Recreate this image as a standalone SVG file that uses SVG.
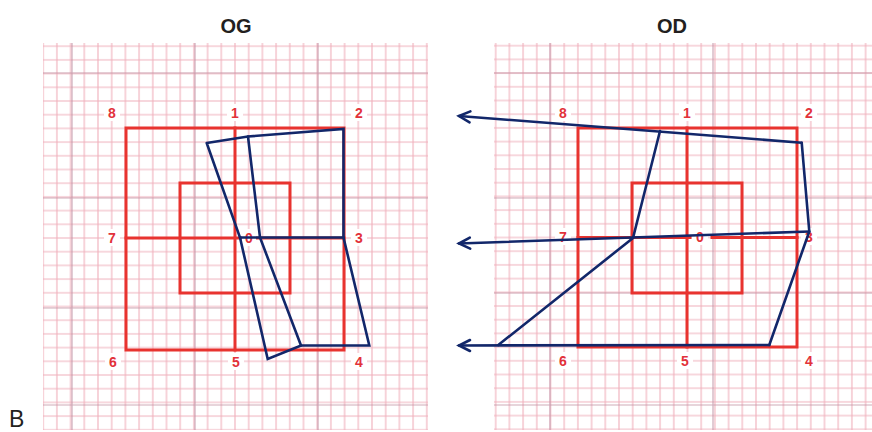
<svg xmlns="http://www.w3.org/2000/svg" width="872" height="432" viewBox="0 0 872 432">
<defs>
<style>
.title{font-family:"Liberation Sans",Arial,sans-serif;font-weight:bold;font-size:20px;fill:#231f20;text-anchor:middle}
.lbl{font-family:"Liberation Sans",Arial,sans-serif;font-weight:bold;font-size:14px;fill:#e2323a;text-anchor:middle}
.lblbg{fill:#ffffff}
.grid-dark{stroke:#bf8fa2;stroke-width:1.2;opacity:0.75}
.red{stroke:#e8332f;stroke-width:3;fill:none;stroke-linecap:square}
.blue{stroke:#12276a;stroke-width:2.6;fill:none;stroke-linejoin:miter;stroke-linecap:round}
</style>
<pattern id="gL" patternUnits="userSpaceOnUse" x="228.15" y="231.15" width="13.7" height="13.7">
<path d="M6.85,0V13.7M0,6.85H13.7" stroke="#f0b0bb" stroke-width="1.1" fill="none"/>
</pattern>
<pattern id="gR" patternUnits="userSpaceOnUse" x="680.65" y="230.65" width="13.7" height="13.7">
<path d="M6.85,0V13.7M0,6.85H13.7" stroke="#f0b0bb" stroke-width="1.1" fill="none"/>
</pattern>
<marker id="arr" markerUnits="userSpaceOnUse" markerWidth="14" markerHeight="14" refX="11" refY="6" orient="auto" overflow="visible">
<path d="M0,0.5 L11,6 L0,11.5" fill="none" stroke="#12276a" stroke-width="2.6" stroke-linecap="round" stroke-linejoin="miter"/>
</marker>
</defs>
<rect width="872" height="432" fill="#ffffff"/>

<g id="titles">
<text class="title" x="236" y="33">OG</text>
<text class="title" x="672" y="33">OD</text>
<text x="9" y="427" font-family="Liberation Sans,Arial,sans-serif" font-size="23" fill="#231f20">B</text>
</g>

<g id="grid-left">
<rect x="43" y="43" width="385" height="387" fill="url(#gL)"/>
<path class="grid-dark" d="M72,43V430M195,43V430M318,43V430M43,73H428M43,198H428M43,308H428M43,405H428"/>
</g>

<g id="grid-right">
<rect x="494" y="43" width="378" height="387" fill="url(#gR)"/>
<path class="grid-dark" d="M550,43V430M713,43V430M494,73H872M494,198H872M494,293H872M494,405H872"/>
</g>

<g id="chart-left">
<rect class="red" x="126" y="128" width="218" height="222"/>
<rect class="red" x="180" y="183" width="110" height="110"/>
<path class="red" d="M235,128V350M126,238H344"/>
</g>

<g id="chart-right">
<rect class="red" x="578" y="128" width="219" height="219"/>
<rect class="red" x="632" y="183" width="110" height="110"/>
<path class="red" d="M687,128V347M578,237.5H690M712,237.5H797"/>
</g>

<g id="labels-left">
<rect class="lblbg" x="104" y="104" width="16" height="17"/><text class="lbl" x="112" y="118">8</text>
<rect class="lblbg" x="227" y="104" width="16" height="17"/><text class="lbl" x="235" y="118">1</text>
<rect class="lblbg" x="351" y="104" width="16" height="17"/><text class="lbl" x="359" y="118">2</text>
<rect class="lblbg" x="104" y="229" width="16" height="17"/><text class="lbl" x="112" y="243">7</text>
<rect class="lblbg" x="242" y="229" width="14" height="17"/><text class="lbl" x="249" y="243">0</text>
<rect class="lblbg" x="351" y="229" width="16" height="17"/><text class="lbl" x="359" y="243">3</text>
<rect class="lblbg" x="105" y="353" width="16" height="17"/><text class="lbl" x="113" y="367">6</text>
<rect class="lblbg" x="228" y="353" width="16" height="17"/><text class="lbl" x="236" y="367">5</text>
<rect class="lblbg" x="351" y="353" width="16" height="17"/><text class="lbl" x="359" y="367">4</text>
</g>

<g id="labels-right">
<rect class="lblbg" x="555" y="104" width="16" height="17"/><text class="lbl" x="563" y="118">8</text>
<rect class="lblbg" x="679" y="104" width="16" height="17"/><text class="lbl" x="687" y="118">1</text>
<rect class="lblbg" x="801" y="104" width="16" height="17"/><text class="lbl" x="809" y="118">2</text>
<rect class="lblbg" x="555" y="228" width="16" height="17"/><text class="lbl" x="563" y="242">7</text>
<rect class="lblbg" x="692" y="228" width="16" height="17"/><text class="lbl" x="700" y="242">0</text>
<rect class="lblbg" x="801" y="228" width="16" height="17"/><text class="lbl" x="809" y="242">3</text>
<rect class="lblbg" x="555" y="352" width="16" height="17"/><text class="lbl" x="563" y="366">6</text>
<rect class="lblbg" x="677" y="352" width="16" height="17"/><text class="lbl" x="685" y="366">5</text>
<rect class="lblbg" x="801" y="352" width="16" height="17"/><text class="lbl" x="809" y="366">4</text>
</g>

<g id="connectors">
<g id="blue-left">
<polyline class="blue" points="206.7,143 248,136.5 343.5,129 343.5,237.5 369.3,345.5 301,345.5 267.7,359 240,237.5 206.7,143"/>
<path class="blue" d="M240,237.5H343.5"/>
<polyline class="blue" points="248,136.5 260,237.5 301,345.5"/>
</g>
<g id="blue-right">
<line class="blue" x1="801.7" y1="142.7" x2="459" y2="116" marker-end="url(#arr)"/>
<polyline class="blue" points="660,131 633,238 498.3,345"/>
<polyline class="blue" points="801.7,142.7 809.3,231.5 769.3,345"/>
<line class="blue" x1="809.3" y1="231.5" x2="459" y2="243.5" marker-end="url(#arr)"/>
<line class="blue" x1="769.3" y1="345" x2="459" y2="345.5" marker-end="url(#arr)"/>
</g>
</g>
</svg>
